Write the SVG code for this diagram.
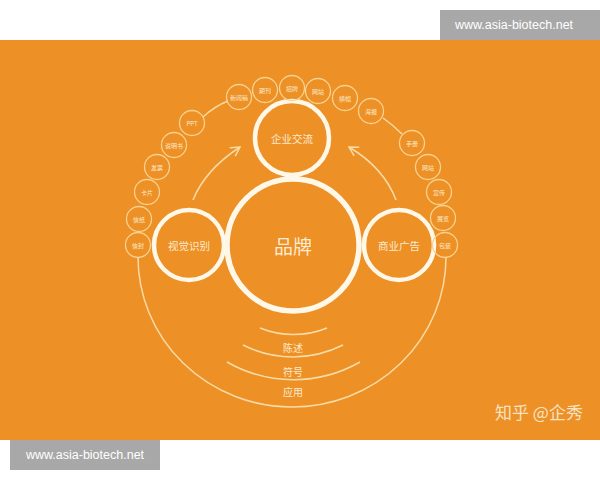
<svg xmlns="http://www.w3.org/2000/svg" width="600" height="480" viewBox="0 0 600 480">
<defs>
<style>
.bg{fill:#ED9026}
.big{fill:none;stroke:#FFF7E8;stroke-width:5.5}
.mid{fill:none;stroke:#FFF7E8;stroke-width:4.5}
.sm{fill:none;stroke:#F8D291;stroke-width:1.3}
.ln{fill:none;stroke:#F9DBA6;stroke-width:1.5}
.t{font-family:"Noto Sans CJK SC","Liberation Sans",sans-serif;fill:#FCEBCF;text-anchor:middle;dominant-baseline:central}
.st{font-size:6px}
.wm{font-family:"Liberation Sans","DejaVu Sans",sans-serif;font-size:12.5px;fill:#FFFFFF;text-anchor:middle;dominant-baseline:central}
</style>
<marker id="chev" viewBox="0 0 12 12" refX="10" refY="6" markerWidth="12" markerHeight="12" markerUnits="userSpaceOnUse" orient="auto">
<path d="M1,1 L10,6 L1,11" fill="none" stroke="#F9DBA6" stroke-width="1.5"/>
</marker>
</defs>
<rect x="0" y="0" width="600" height="480" fill="#FFFFFF"/>
<rect class="bg" x="0" y="40" width="600" height="400"/>
<g id="connectors">
<path class="ln" d="M138,257 A154,150 0 0 0 446,257"/>
<path class="ln" d="M260,328 A89,89 0 0 0 327,328"/>
<path class="ln" d="M243,345 A111,111 0 0 0 343,345"/>
<path class="ln" d="M227,362 A134,134 0 0 0 360,362"/>
<path class="ln" d="M203,117 Q215,106 228,101"/>
<path class="ln" d="M383,118 Q393,125 402,134"/>
<path class="ln" d="M193,200 Q205,170 240,147" marker-end="url(#chev)"/>
<path class="ln" d="M396,200 Q384,168 349,147" marker-end="url(#chev)"/>
</g>
<g id="n-brand"><circle class="big" cx="293" cy="245" r="66"/><text class="t" x="293" y="245" font-size="19">品牌</text></g>
<g id="n-exchange"><circle class="mid" cx="292" cy="138" r="37"/><text class="t" x="292" y="138" font-size="10.5">企业交流</text></g>
<g id="n-vi"><circle class="mid" cx="189" cy="245" r="35"/><text class="t" x="189" y="245" font-size="10.5">视觉识别</text></g>
<g id="n-ad"><circle class="mid" cx="399" cy="245" r="35"/><text class="t" x="399" y="245" font-size="10.5">商业广告</text></g>
<g id="n1"><circle class="sm" cx="138" cy="245" r="12.5"/><text class="t st" x="138" y="245">信封</text></g>
<g id="n2"><circle class="sm" cx="139" cy="219" r="12.5"/><text class="t st" x="139" y="219">信纸</text></g>
<g id="n3"><circle class="sm" cx="147" cy="192" r="12.5"/><text class="t st" x="147" y="192">卡片</text></g>
<g id="n4"><circle class="sm" cx="157" cy="167" r="12.5"/><text class="t st" x="157" y="167">发票</text></g>
<g id="n5"><circle class="sm" cx="174" cy="145" r="12.5"/><text class="t st" x="174" y="145">说明书</text></g>
<g id="n6"><circle class="sm" cx="192" cy="123" r="12.5"/><text class="t st" x="192" y="123">PPT</text></g>
<g id="n7"><circle class="sm" cx="239" cy="97" r="12.5"/><text class="t st" x="239" y="97">新闻稿</text></g>
<g id="n8"><circle class="sm" cx="265" cy="90" r="12.5"/><text class="t st" x="265" y="90">期刊</text></g>
<g id="n9"><circle class="sm" cx="292" cy="88" r="12.5"/><text class="t st" x="292" y="88">招牌</text></g>
<g id="n10"><circle class="sm" cx="318" cy="91" r="12.5"/><text class="t st" x="318" y="91">网站</text></g>
<g id="n11"><circle class="sm" cx="345" cy="98" r="12.5"/><text class="t st" x="345" y="98">横幅</text></g>
<g id="n12"><circle class="sm" cx="371" cy="111" r="12.5"/><text class="t st" x="371" y="111">海报</text></g>
<g id="n13"><circle class="sm" cx="412" cy="143" r="12.5"/><text class="t st" x="412" y="143">手册</text></g>
<g id="n14"><circle class="sm" cx="428" cy="167" r="12.5"/><text class="t st" x="428" y="167">网站</text></g>
<g id="n15"><circle class="sm" cx="439" cy="192" r="12.5"/><text class="t st" x="439" y="192">宣传</text></g>
<g id="n16"><circle class="sm" cx="443" cy="218" r="12.5"/><text class="t st" x="443" y="218">展览</text></g>
<g id="n17"><circle class="sm" cx="445" cy="245" r="12.5"/><text class="t st" x="445" y="245">包装</text></g>
<text class="t" x="293" y="347" font-size="10">陈述</text>
<text class="t" x="293" y="371" font-size="10">符号</text>
<text class="t" x="293" y="391" font-size="10">应用</text>
<text x="539" y="411" font-family="Noto Sans CJK SC,sans-serif" font-size="17" fill="#F7E3C4" text-anchor="middle" dominant-baseline="central">知乎 @企秀</text>
<rect x="440" y="10" width="160" height="30" fill="#A8A8A8"/>
<text class="wm" x="514" y="25">www.asia-biotech.net</text>
<rect x="10" y="440" width="150" height="30" fill="#A8A8A8"/>
<text class="wm" x="85" y="455">www.asia-biotech.net</text>
</svg>
